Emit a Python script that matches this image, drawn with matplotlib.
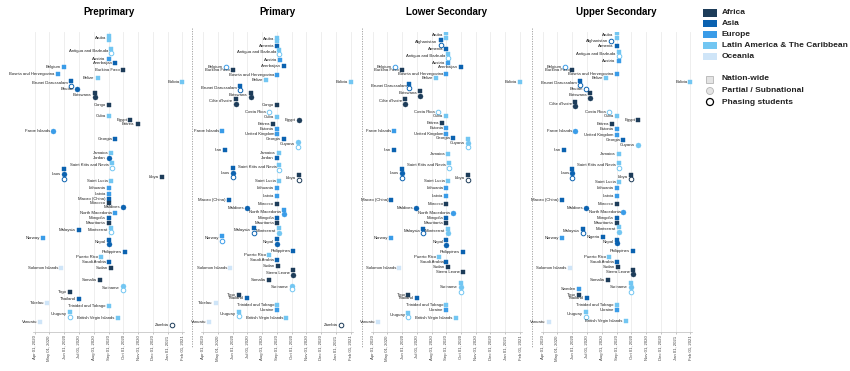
import matplotlib
matplotlib.use("Agg")
import matplotlib.pyplot as plt
import matplotlib.dates as mdates
from matplotlib.patches import Rectangle, Circle
from matplotlib.lines import Line2D
import datetime as dt

plt.rcParams['font.family'] = ['Liberation Sans', 'DejaVu Sans']

# ---------------- data ----------------
PANELS = ["Preprimary", "Primary", "Lower Secondary", "Upper Secondary"]
REGIONS = ["Africa", "Asia", "Europe", "Latin America & The Caribbean", "Oceania"]
REGION_COLORS = ["#1d3c59", "#0b62b0", "#3a9ce8", "#72c6f2", "#cfe5f8"]
TYPES = ["Nation-wide", "Partial / Subnational", "Phasing students"]
TICK_LABELS = ["Apr 01, 2020", "May 01, 2020", "Jun 01, 2020", "Jul 01, 2020",
               "Aug 01, 2020", "Sep 01, 2020", "Oct 01, 2020", "Nov 01, 2020",
               "Dec 01, 2020", "Jan 01, 2021", "Feb 01, 2021"]

AFRICA = ["Burkina Faso", "Botswana", "Côte d'Ivoire", "Congo", "Egypt", "Eritrea",
          "Libya", "Morocco", "Mauritania", "Sudan", "Sierra Leone", "Somalia",
          "Togo", "Zambia"]
ASIA = ["Afghanistan", "Armenia", "Azerbaijan", "Brunei Darussalam", "Bhutan",
        "Georgia", "Iran", "Jordan", "Laos", "Macao (China)", "Maldives",
        "Mongolia", "Malaysia", "Nepal", "Philippines", "Saudi Arabia",
        "Thailand", "Nigeria"]
EUROPE = ["Austria", "Belgium", "Bosnia and Herzegovina", "Estonia", "Faroe Islands",
          "United Kingdom", "Lithuania", "Latvia", "North Macedonia", "Norway",
          "Ukraine", "Sweden"]
LATAM = ["Aruba", "Antigua and Barbuda", "Belize", "Bolivia", "Costa Rica", "Cuba",
         "Guyana", "Jamaica", "Saint Kitts and Nevis", "Saint Lucia", "Montserrat",
         "Puerto Rico", "Suriname", "Trinidad and Tobago", "Uruguay",
         "British Virgin Islands"]
OCEANIA = ["Solomon Islands", "Tokelau", "Vanuatu"]

# (country, type N=nation-wide / P=partial / S=phasing, reopening date, row)
preprimary = [
    ("Aruba", "N", "2020-09-02", 36), ("Aruba", "N", "2020-09-02", 40),
    ("Antigua and Barbuda", "N", "2020-09-06", 49), ("Antigua and Barbuda", "S", "2020-09-06", 53),
    ("Austria", "N", "2020-09-01", 59), ("Azerbaijan", "N", "2020-09-15", 63),
    ("Belgium", "N", "2020-05-31", 67), ("Burkina Faso", "N", "2020-10-01", 70),
    ("Bosnia and Herzegovina", "N", "2020-05-18", 74), ("Belize", "N", "2020-08-09", 78),
    ("Bolivia", "N", "2021-02-01", 82),
    ("Brunei Darussalam", "N", "2020-06-15", 81), ("Brunei Darussalam", "S", "2020-06-15", 86),
    ("Bhutan", "P", "2020-06-28", 89),
    ("Botswana", "N", "2020-08-03", 93), ("Botswana", "P", "2020-08-03", 97),
    ("Congo", "N", "2020-09-02", 105), ("Cuba", "N", "2020-09-01", 116),
    ("Egypt", "N", "2020-10-16", 120), ("Eritrea", "N", "2020-10-31", 124),
    ("Faroe Islands", "P", "2020-05-09", 131), ("Georgia", "N", "2020-09-15", 139),
    ("Jamaica", "N", "2020-09-06", 153), ("Jordan", "P", "2020-09-01", 158),
    ("Saint Kitts and Nevis", "N", "2020-09-08", 163), ("Saint Kitts and Nevis", "S", "2020-09-08", 168),
    ("Laos", "N", "2020-05-31", 169), ("Laos", "P", "2020-05-31", 174), ("Laos", "S", "2020-05-31", 179),
    ("Libya", "N", "2020-12-20", 177), ("Saint Lucia", "N", "2020-09-05", 181),
    ("Lithuania", "N", "2020-09-01", 188), ("Latvia", "N", "2020-09-01", 194),
    ("Macao (China)", "N", "2020-09-01", 199), ("Morocco", "N", "2020-09-01", 203),
    ("Maldives", "P", "2020-10-01", 207), ("North Macedonia", "N", "2020-09-14", 213),
    ("Mongolia", "N", "2020-09-01", 218), ("Mauritania", "N", "2020-09-01", 223),
    ("Malaysia", "N", "2020-07-01", 230),
    ("Montserrat", "N", "2020-09-06", 228), ("Montserrat", "S", "2020-09-06", 232),
    ("Norway", "N", "2020-04-18", 238),
    ("Nepal", "N", "2020-09-01", 240), ("Nepal", "P", "2020-09-01", 244),
    ("Philippines", "N", "2020-10-04", 252), ("Puerto Rico", "N", "2020-08-16", 257),
    ("Saudi Arabia", "N", "2020-09-01", 262), ("Sudan", "N", "2020-09-06", 268),
    ("Solomon Islands", "N", "2020-05-25", 268), ("Somalia", "N", "2020-08-14", 280),
    ("Suriname", "P", "2020-10-01", 286), ("Suriname", "S", "2020-10-01", 290),
    ("Togo", "N", "2020-06-12", 292), ("Thailand", "N", "2020-07-01", 299),
    ("Tokelau", "N", "2020-04-26", 303), ("Trinidad and Tobago", "N", "2020-09-01", 306),
    ("Uruguay", "N", "2020-06-12", 312), ("Uruguay", "S", "2020-06-12", 317),
    ("British Virgin Islands", "N", "2020-09-20", 318), ("Vanuatu", "N", "2020-04-12", 322),
    ("Zambia", "S", "2021-01-11", 325),
]

primary = [
    ("Aruba", "N", "2020-09-01", 38), ("Aruba", "N", "2020-09-01", 41),
    ("Armenia", "N", "2020-09-01", 46),
    ("Antigua and Barbuda", "N", "2020-09-05", 50), ("Antigua and Barbuda", "S", "2020-09-05", 54),
    ("Austria", "N", "2020-09-07", 60), ("Azerbaijan", "N", "2020-09-15", 66),
    ("Belgium", "S", "2020-05-18", 67), ("Burkina Faso", "N", "2020-06-01", 70),
    ("Bosnia and Herzegovina", "N", "2020-09-01", 75), ("Belize", "N", "2020-08-09", 80),
    ("Bolivia", "N", "2021-02-01", 82),
    ("Brunei Darussalam", "N", "2020-06-16", 86), ("Brunei Darussalam", "S", "2020-06-16", 90),
    ("Botswana", "N", "2020-07-08", 93), ("Botswana", "P", "2020-07-08", 97),
    ("Côte d'Ivoire", "N", "2020-06-07", 99), ("Côte d'Ivoire", "P", "2020-06-07", 104),
    ("Congo", "N", "2020-09-01", 105), ("Costa Rica", "S", "2020-08-15", 112),
    ("Cuba", "N", "2020-09-01", 117), ("Egypt", "P", "2020-10-16", 120),
    ("Eritrea", "N", "2020-08-24", 124), ("Estonia", "N", "2020-09-01", 129),
    ("Faroe Islands", "N", "2020-05-10", 131), ("United Kingdom", "N", "2020-09-01", 134),
    ("Georgia", "N", "2020-09-15", 139),
    ("Guyana", "P", "2020-10-14", 142), ("Guyana", "S", "2020-10-14", 147),
    ("Iran", "N", "2020-05-15", 150), ("Jamaica", "N", "2020-09-05", 153),
    ("Jordan", "N", "2020-09-01", 158),
    ("Saint Kitts and Nevis", "N", "2020-09-06", 165), ("Saint Kitts and Nevis", "S", "2020-09-06", 170),
    ("Laos", "N", "2020-06-01", 168), ("Laos", "P", "2020-06-01", 173), ("Laos", "S", "2020-06-01", 177),
    ("Libya", "N", "2020-10-16", 175), ("Libya", "S", "2020-10-16", 180),
    ("Saint Lucia", "N", "2020-09-05", 181), ("Lithuania", "N", "2020-09-01", 188),
    ("Latvia", "N", "2020-09-01", 196), ("Macao (China)", "N", "2020-05-24", 200),
    ("Morocco", "N", "2020-09-01", 204), ("Maldives", "P", "2020-07-01", 208),
    ("North Macedonia", "N", "2020-09-15", 210), ("North Macedonia", "P", "2020-09-15", 214),
    ("Mongolia", "N", "2020-09-01", 218), ("Mauritania", "N", "2020-09-01", 223),
    ("Malaysia", "N", "2020-07-15", 228), ("Malaysia", "S", "2020-07-15", 233),
    ("Montserrat", "N", "2020-09-05", 228), ("Montserrat", "P", "2020-09-05", 233),
    ("Norway", "N", "2020-05-10", 236), ("Norway", "S", "2020-05-10", 241),
    ("Nepal", "N", "2020-09-01", 239), ("Nepal", "P", "2020-09-01", 244),
    ("Philippines", "N", "2020-10-05", 251), ("Puerto Rico", "N", "2020-08-16", 255),
    ("Saudi Arabia", "N", "2020-09-01", 260), ("Sudan", "N", "2020-09-04", 266),
    ("Sierra Leone", "N", "2020-10-05", 270), ("Sierra Leone", "P", "2020-10-05", 275),
    ("Solomon Islands", "N", "2020-05-27", 268), ("Somalia", "N", "2020-08-15", 280),
    ("Suriname", "P", "2020-10-01", 286), ("Suriname", "S", "2020-10-01", 289),
    ("Togo", "N", "2020-06-14", 295), ("Thailand", "N", "2020-07-01", 298),
    ("Tokelau", "N", "2020-04-27", 303), ("Trinidad and Tobago", "N", "2020-09-01", 305),
    ("Ukraine", "N", "2020-09-01", 310),
    ("Uruguay", "N", "2020-06-14", 312), ("Uruguay", "S", "2020-06-14", 316),
    ("British Virgin Islands", "N", "2020-09-20", 318), ("Vanuatu", "N", "2020-04-13", 322),
    ("Zambia", "S", "2021-01-11", 325),
]

lower_secondary = [
    ("Aruba", "N", "2020-09-01", 33), ("Aruba", "N", "2020-09-01", 38),
    ("Afghanistan", "N", "2020-08-20", 40), ("Afghanistan", "S", "2020-08-20", 45),
    ("Armenia", "N", "2020-09-01", 49),
    ("Antigua and Barbuda", "N", "2020-09-05", 54), ("Antigua and Barbuda", "S", "2020-09-05", 58),
    ("Austria", "N", "2020-09-05", 63), ("Azerbaijan", "N", "2020-10-01", 67),
    ("Belgium", "S", "2020-05-17", 67), ("Burkina Faso", "N", "2020-06-01", 70),
    ("Bosnia and Herzegovina", "N", "2020-09-01", 74), ("Belize", "N", "2020-08-10", 78),
    ("Bolivia", "N", "2021-02-01", 82),
    ("Brunei Darussalam", "N", "2020-06-16", 84), ("Brunei Darussalam", "S", "2020-06-16", 88),
    ("Botswana", "N", "2020-07-08", 91), ("Botswana", "P", "2020-07-08", 96),
    ("Côte d'Ivoire", "N", "2020-06-07", 99), ("Côte d'Ivoire", "P", "2020-06-07", 104),
    ("Costa Rica", "S", "2020-08-15", 112), ("Cuba", "N", "2020-09-01", 116),
    ("Eritrea", "N", "2020-08-23", 123), ("Estonia", "N", "2020-09-01", 128),
    ("Faroe Islands", "N", "2020-05-16", 131), ("United Kingdom", "N", "2020-09-01", 134),
    ("Georgia", "N", "2020-09-15", 138),
    ("Guyana", "N", "2020-10-15", 139), ("Guyana", "P", "2020-10-15", 143), ("Guyana", "S", "2020-10-15", 147),
    ("Iran", "N", "2020-05-15", 150), ("Jamaica", "N", "2020-09-05", 154),
    ("Saint Kitts and Nevis", "N", "2020-09-06", 163), ("Saint Kitts and Nevis", "S", "2020-09-06", 168),
    ("Laos", "N", "2020-06-01", 169), ("Laos", "P", "2020-06-01", 173), ("Laos", "S", "2020-06-01", 178),
    ("Libya", "N", "2020-10-16", 175), ("Libya", "S", "2020-10-16", 180),
    ("Saint Lucia", "N", "2020-09-05", 181), ("Lithuania", "N", "2020-09-01", 188),
    ("Latvia", "N", "2020-09-01", 196), ("Macao (China)", "N", "2020-05-10", 200),
    ("Morocco", "N", "2020-09-01", 204), ("Maldives", "P", "2020-06-30", 208),
    ("North Macedonia", "P", "2020-09-15", 213),
    ("Mongolia", "N", "2020-09-01", 218), ("Mauritania", "N", "2020-09-01", 223),
    ("Malaysia", "N", "2020-07-15", 229), ("Malaysia", "S", "2020-07-15", 233),
    ("Montserrat", "N", "2020-09-05", 229), ("Montserrat", "P", "2020-09-05", 233),
    ("Norway", "N", "2020-05-10", 238),
    ("Nepal", "N", "2020-09-01", 240), ("Nepal", "P", "2020-09-01", 245),
    ("Philippines", "N", "2020-10-05", 252), ("Puerto Rico", "N", "2020-08-16", 257),
    ("Saudi Arabia", "N", "2020-09-01", 262), ("Sudan", "N", "2020-09-04", 267),
    ("Sierra Leone", "N", "2020-10-05", 272), ("Solomon Islands", "N", "2020-05-26", 268),
    ("Suriname", "N", "2020-10-01", 283), ("Suriname", "P", "2020-10-01", 287), ("Suriname", "S", "2020-10-01", 292),
    ("Togo", "N", "2020-06-14", 295), ("Thailand", "N", "2020-07-01", 298),
    ("Trinidad and Tobago", "N", "2020-09-01", 305), ("Ukraine", "N", "2020-09-01", 310),
    ("Uruguay", "N", "2020-06-14", 313), ("Uruguay", "S", "2020-06-14", 317),
    ("British Virgin Islands", "N", "2020-09-20", 318), ("Vanuatu", "N", "2020-04-13", 322),
]

upper_secondary = [
    ("Aruba", "N", "2020-09-01", 33), ("Aruba", "N", "2020-09-01", 38),
    ("Afghanistan", "S", "2020-08-20", 41), ("Armenia", "N", "2020-09-01", 46),
    ("Antigua and Barbuda", "N", "2020-09-05", 52), ("Antigua and Barbuda", "S", "2020-09-05", 56),
    ("Austria", "N", "2020-09-05", 61), ("Belgium", "S", "2020-05-17", 67),
    ("Burkina Faso", "N", "2020-06-01", 70), ("Bosnia and Herzegovina", "N", "2020-09-01", 74),
    ("Belize", "N", "2020-08-10", 78), ("Bolivia", "N", "2021-02-01", 82),
    ("Brunei Darussalam", "N", "2020-06-16", 81), ("Brunei Darussalam", "S", "2020-06-16", 85),
    ("Bhutan", "S", "2020-06-30", 89),
    ("Botswana", "N", "2020-07-08", 93), ("Botswana", "P", "2020-07-08", 98),
    ("Côte d'Ivoire", "N", "2020-06-07", 102), ("Côte d'Ivoire", "P", "2020-06-07", 106),
    ("Costa Rica", "S", "2020-08-15", 112), ("Cuba", "N", "2020-09-01", 116),
    ("Egypt", "N", "2020-10-16", 120), ("Eritrea", "N", "2020-08-23", 124),
    ("Estonia", "N", "2020-09-01", 129), ("Faroe Islands", "P", "2020-06-07", 131),
    ("United Kingdom", "N", "2020-09-01", 135), ("Georgia", "N", "2020-09-15", 140),
    ("Guyana", "P", "2020-10-15", 145), ("Iran", "N", "2020-05-15", 150),
    ("Jamaica", "N", "2020-09-05", 154),
    ("Saint Kitts and Nevis", "N", "2020-09-06", 163), ("Saint Kitts and Nevis", "S", "2020-09-06", 168),
    ("Laos", "N", "2020-06-01", 169), ("Laos", "P", "2020-06-01", 173), ("Laos", "S", "2020-06-01", 178),
    ("Libya", "N", "2020-10-01", 175), ("Libya", "S", "2020-10-01", 179),
    ("Saint Lucia", "N", "2020-09-05", 182), ("Lithuania", "N", "2020-09-01", 188),
    ("Latvia", "N", "2020-09-01", 196), ("Macao (China)", "N", "2020-05-10", 200),
    ("Morocco", "N", "2020-09-01", 204), ("Maldives", "P", "2020-06-30", 208),
    ("North Macedonia", "P", "2020-09-15", 212),
    ("Mongolia", "N", "2020-09-01", 218), ("Mauritania", "N", "2020-09-01", 223),
    ("Montserrat", "N", "2020-09-05", 227), ("Montserrat", "P", "2020-09-05", 232),
    ("Malaysia", "N", "2020-06-22", 229), ("Malaysia", "S", "2020-06-22", 233),
    ("Nigeria", "N", "2020-08-03", 237), ("Norway", "N", "2020-05-10", 238),
    ("Nepal", "N", "2020-09-01", 240), ("Nepal", "P", "2020-09-01", 243),
    ("Philippines", "N", "2020-10-05", 251), ("Puerto Rico", "N", "2020-08-16", 257),
    ("Saudi Arabia", "N", "2020-09-01", 262), ("Sudan", "N", "2020-09-04", 267),
    ("Sierra Leone", "N", "2020-10-05", 270), ("Sierra Leone", "P", "2020-10-05", 274),
    ("Solomon Islands", "N", "2020-05-26", 268), ("Somalia", "N", "2020-08-14", 280),
    ("Suriname", "N", "2020-10-01", 283), ("Suriname", "P", "2020-10-01", 287), ("Suriname", "S", "2020-10-01", 292),
    ("Sweden", "N", "2020-06-14", 289), ("Togo", "N", "2020-06-14", 295),
    ("Thailand", "N", "2020-07-01", 298), ("Trinidad and Tobago", "N", "2020-09-01", 305),
    ("Ukraine", "N", "2020-09-01", 310),
    ("Uruguay", "N", "2020-06-29", 312), ("Uruguay", "S", "2020-06-29", 317),
    ("British Virgin Islands", "N", "2020-09-20", 321), ("Vanuatu", "N", "2020-04-13", 322),
]

PANEL_DATA = [preprimary, primary, lower_secondary, upper_secondary]

# ---------------- helpers ----------------
REGION_OF = {}
for reg, lst in zip(REGIONS, [AFRICA, ASIA, EUROPE, LATAM, OCEANIA]):
    for c in lst:
        REGION_OF[c] = reg
COLOR_OF = dict(zip(REGIONS, REGION_COLORS))


def d(s):
    return mdates.date2num(dt.datetime.strptime(s, "%Y-%m-%d"))


tick_pos = [mdates.date2num(dt.datetime.strptime(t, "%b %d, %Y")) for t in TICK_LABELS]

# ---------------- layout ----------------
W, H = 850, 371
fig = plt.figure(figsize=(W / 100, H / 100), dpi=100)

overlay = fig.add_axes([0, 0, 1, 1])
overlay.set_xlim(0, W)
overlay.set_ylim(H, 0)
overlay.axis("off")

PX_PER_DAY = 0.482
APR1_PX = [35, 203.3, 372.7, 543]
AX_TOP, AX_BOT = 32, 332
x0 = d("2020-03-28")
x1 = d("2021-02-05")

for k, (name, data) in enumerate(zip(PANELS, PANEL_DATA)):
    left_px = APR1_PX[k] - (tick_pos[0] - x0) * PX_PER_DAY
    width_px = (x1 - x0) * PX_PER_DAY
    ax = fig.add_axes([left_px / W, 1 - AX_BOT / H, width_px / W, (AX_BOT - AX_TOP) / H])
    ax.set_facecolor("none")
    ax.set_xlim(x0, x1)
    ax.set_ylim(AX_BOT, AX_TOP)
    for t in tick_pos:
        ax.axvline(t, color="#ebebeb", lw=0.6, zorder=0)
    ax.set_xticks(tick_pos)
    ax.set_xticklabels(TICK_LABELS, rotation=90, fontsize=3.1, color="#444444")
    ax.tick_params(axis="x", length=1.5, width=0.4, color="#999999", pad=1)
    ax.set_yticks([])
    for s in ["left", "right", "top"]:
        ax.spines[s].set_visible(False)
    ax.spines["bottom"].set_color("#bbbbbb")
    ax.spines["bottom"].set_linewidth(0.5)

    # marks
    for country, typ, date, row in data:
        col = COLOR_OF[REGION_OF[country]]
        x = d(date)
        if typ == "N":
            ax.scatter([x], [row], marker="s", s=11, facecolor=col, edgecolor=col,
                       linewidth=0.3, zorder=3)
        elif typ == "P":
            ax.scatter([x], [row], marker="o", s=13, facecolor=col, edgecolor=col,
                       linewidth=0.3, zorder=3)
        else:
            ax.scatter([x], [row], marker="o", s=11, facecolor="white", edgecolor=col,
                       linewidth=0.7, zorder=3)

    # labels (one per country, at the middle of its stack)
    seen = {}
    for country, typ, date, row in data:
        seen.setdefault(country, []).append((d(date), row))
    for country, pts in seen.items():
        x = min(p[0] for p in pts)
        y = sum(p[1] for p in pts) / len(pts)
        ax.annotate(country, xy=(x, y), xytext=(-2.2, 0), textcoords="offset points",
                    ha="right", va="center", fontsize=3.1, color="#222222", zorder=4,
                    annotation_clip=False)

    # title
    center_px = left_px + width_px / 2
    overlay.text(center_px, 12, name, ha="center", va="center", fontsize=7,
                 fontweight="bold", color="black")

# dashed separators between panels
for xs in [192, 362, 532]:
    overlay.add_line(Line2D([xs, xs], [28, 348], color="#9a9a9a", lw=0.6,
                            linestyle=(0, (1.5, 1.5))))

# legend: regions
for i, (reg, col) in enumerate(zip(REGIONS, REGION_COLORS)):
    yc = 13 + i * 10.8
    overlay.add_patch(Rectangle((703, yc - 3.6), 14, 7.2, facecolor=col, edgecolor="none"))
    overlay.text(722, yc, reg, ha="left", va="center", fontsize=6, fontweight="bold",
                 color="#222222")

# legend: types
ty = [79, 91, 102]
overlay.add_patch(Rectangle((706.5, ty[0] - 3.5), 7, 7, facecolor="#e4e4e4",
                            edgecolor="#b5b5b5", lw=0.6))
overlay.add_patch(Circle((710, ty[1]), 3.5, facecolor="#e4e4e4", edgecolor="#b5b5b5", lw=0.6))
overlay.add_patch(Circle((710, ty[2]), 3.5, facecolor="white", edgecolor="black", lw=0.9))
for y, lab in zip(ty, TYPES):
    overlay.text(722, y, lab, ha="left", va="center", fontsize=6, fontweight="bold",
                 color="#222222")

fig.savefig("out.png", dpi=100)
